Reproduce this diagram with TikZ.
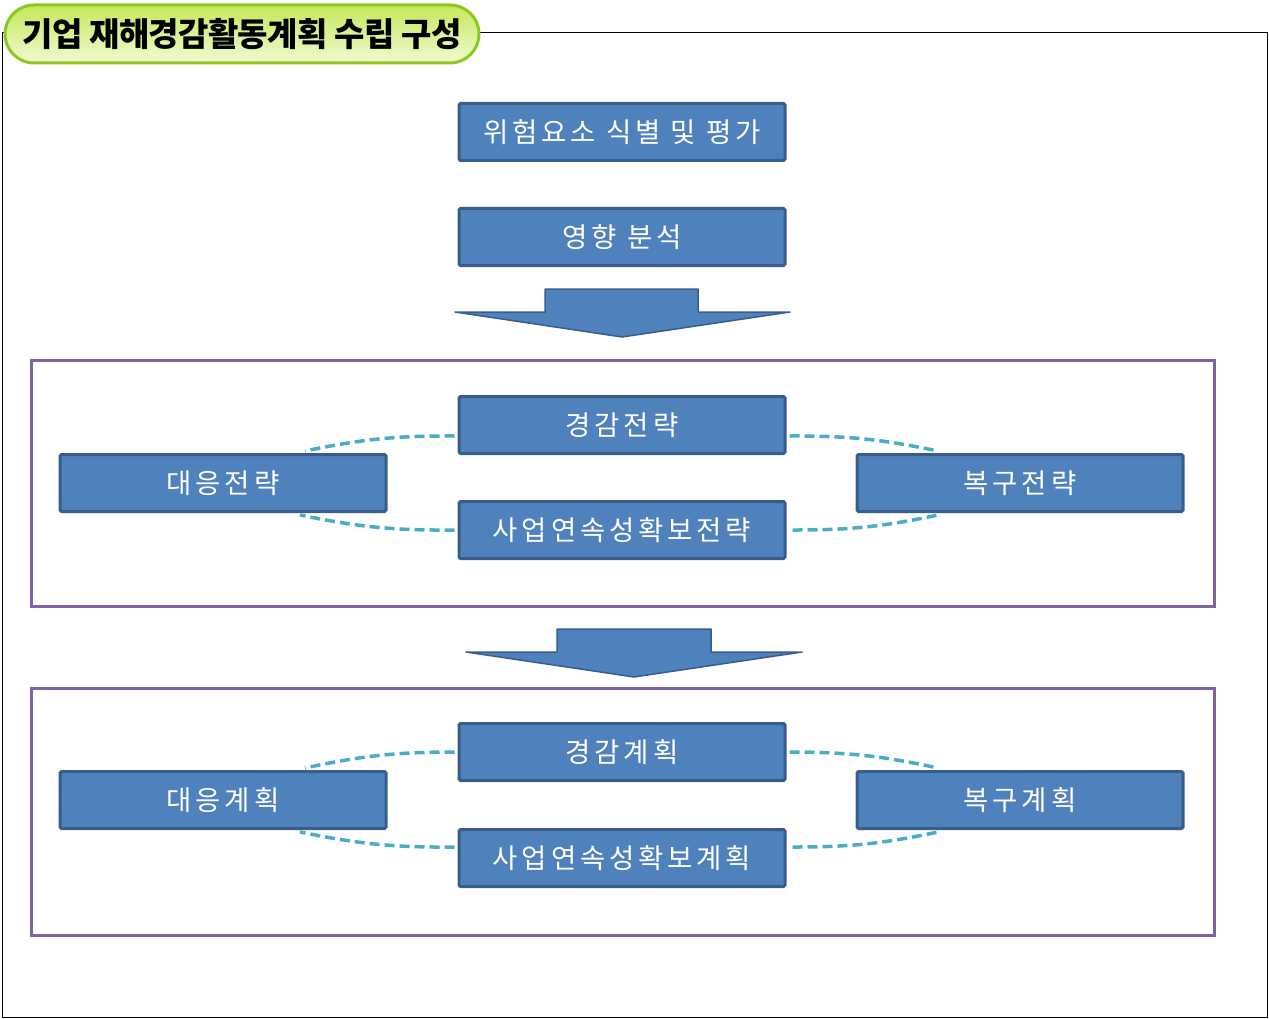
\documentclass[tikz,border=0pt]{standalone}
\usepackage{fontspec}
\usetikzlibrary{calc}
\newfontfamily\kr[LetterSpace=-2]{Noto Sans CJK KR}
\newfontfamily\krsp[LetterSpace=14]{Noto Sans CJK KR}
\definecolor{boxfill}{HTML}{4F81BD}
\definecolor{boxline}{HTML}{385D8A}
\definecolor{dashc}{HTML}{4BACC6}
\definecolor{frameviolet}{HTML}{8064A2}
\definecolor{pillrim}{HTML}{8CC820}
\definecolor{pilltop}{HTML}{C4E85A}
\definecolor{pillbot}{HTML}{F2FAD2}
\tikzset{
  bluebox/.style={draw=boxline, line width=3pt, fill=boxfill, rounded corners=1.5pt,
    minimum width=326pt, minimum height=57pt, inner sep=0pt,
    text=white, font=\krsp\fontsize{27.5}{27.5}\selectfont},
  linkline/.style={draw=dashc, line width=3.5pt, dash pattern=on 10pt off 5pt},
  groupframe/.style={draw=frameviolet, line width=3pt},
  bigarrow/.style={fill=boxfill, draw=boxline, line width=1.5pt, line join=round}
}
\begin{document}
\begin{tikzpicture}[x=1pt,y=-1pt]
\useasboundingbox (0,0) rectangle (1269,1019);
\draw[black, line width=0.8pt] (2,32) rectangle (1267,1017);
% title pill
\node[draw=pillrim, line width=3pt, top color=pilltop, bottom color=pillbot,
  rounded corners=29pt, minimum width=474pt, minimum height=58pt, inner sep=0pt,
  font=\kr\bfseries\fontsize{33}{33}\selectfont] (title) at (242,34) {기업 재해경감활동계획 수립 구성};
% top boxes
\node[bluebox] (risk) at (622,132) {위험요소 식별 및 평가};
\node[bluebox] (impact) at (622,237) {영향 분석};
% arrow 1
\draw[bigarrow] (545,289) -- (698,289) -- (698,312) -- (790,312) -- (622,337) -- (455,312) -- (545,312) -- cycle;
% frame 1
\draw[groupframe] (31,360) rectangle (1214,606);
\node[bluebox] (gk) at (622,425) {경감전략};
\node[bluebox] (dae) at (223,483) {대응전략};
\node[bluebox] (bok) at (1020,483) {복구전략};
\node[bluebox] (sa) at (622,530) {사업연속성확보전략};
% arrow 2
\draw[bigarrow] (557,629) -- (711,629) -- (711,652) -- (802,652) -- (634,677) -- (466,652) -- (557,652) -- cycle;
% frame 2
\draw[groupframe] (31,688) rectangle (1214,935);
\node[bluebox] (gk2) at (622,752) {경감계획};
\node[bluebox] (dae2) at (223,800) {대응계획};
\node[bluebox] (bok2) at (1020,800) {복구계획};
\node[bluebox] (sa2) at (622,858) {사업연속성확보계획};
% dashed links (set 1)
\draw[linkline] ($(gk.west)+(-3,11)$) to[bend right=6] ($(dae.north)+(82,-2)$);
\draw[linkline] ($(sa.west)+(-3,0)$) to[bend left=6] ($(dae.south)+(77,2)$);
\draw[linkline] ($(gk.east)+(3,11)$) to[bend left=6] ($(bok.north)+(-82,-2)$);
\draw[linkline] ($(sa.east)+(6,0)$) to[bend right=6] ($(bok.south)+(-82,2)$);
% dashed links (set 2)
\draw[linkline] ($(gk2.west)+(-3,0)$) to[bend right=6] ($(dae2.north)+(82,-2)$);
\draw[linkline] ($(sa2.west)+(-3,-11)$) to[bend left=6] ($(dae2.south)+(77,2)$);
\draw[linkline] ($(gk2.east)+(3,0)$) to[bend left=6] ($(bok2.north)+(-82,-2)$);
\draw[linkline] ($(sa2.east)+(6,-11)$) to[bend right=6] ($(bok2.south)+(-82,2)$);
\end{tikzpicture}
\end{document}
